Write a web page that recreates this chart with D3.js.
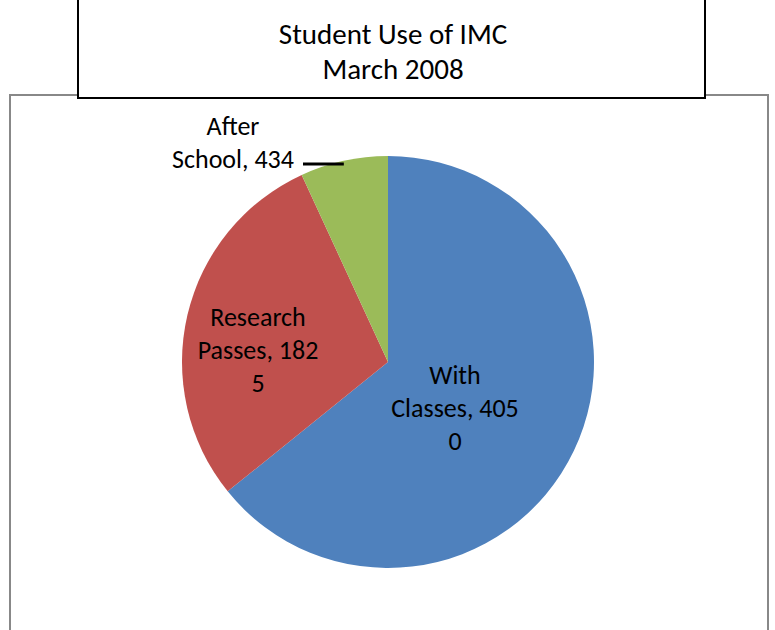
<!DOCTYPE html>
<html>
<head>
<meta charset="utf-8">
<script src="https://cdn.jsdelivr.net/npm/d3@7"></script>
<style>
  body { margin: 0; background: #fff; }
  svg { display: block; }
</style>
</head>
<body>
<div id="chart"></div>
<script>
// data
const categories = ['With Classes', 'Research Passes', 'After School'];
const values = [4050, 1825, 434];
const colors = ['#4F81BD', '#C0504D', '#9BBB59'];
// label lines as wrapped in the original
const labelLines = [
    ['With', 'Classes, 405', '0'],
    ['Research', 'Passes, 182', '5'],
    ['After', 'School, 434']
];

const width = 775, height = 630;
const font = 'Carlito, Lato, "Open Sans", sans-serif';

const svg = d3.select('#chart')
    .append('svg')
    .attr('width', width)
    .attr('height', height);

// chart area border
svg.append('rect')
    .attr('x', 10).attr('y', 95)
    .attr('width', 758).attr('height', 545)
    .attr('fill', '#fff')
    .attr('stroke', '#888')
    .attr('stroke-width', 2);

// title box
svg.append('rect')
    .attr('x', 78).attr('y', -1)
    .attr('width', 627).attr('height', 99)
    .attr('fill', '#fff')
    .attr('stroke', '#000')
    .attr('stroke-width', 2);

svg.append('text')
    .attr('x', 393).attr('y', 44)
    .attr('text-anchor', 'middle')
    .attr('font-family', font)
    .attr('font-size', '29px')
    .text('Student Use of IMC');

svg.append('text')
    .attr('x', 393).attr('y', 79)
    .attr('text-anchor', 'middle')
    .attr('font-family', font)
    .attr('font-size', '29px')
    .text('March 2008');

const cx = 388, cy = 362, r = 206;

const pie = d3.pie().sort(null).value(d => d)(values);
const arc = d3.arc().innerRadius(0).outerRadius(r);

const g = svg.append('g').attr('transform', `translate(${cx},${cy})`);

g.selectAll('path')
    .data(pie)
    .join('path')
    .attr('d', arc)
    .attr('fill', (d, i) => colors[i]);

// label anchor points (baseline of first line), relative to pie centre
const labelPos = [
    { x: 67, y: 22 },
    { x: -130, y: -36 },
    { x: -155, y: -227 }
];
const lineH = 33;

labelLines.forEach((lines, i) => {
    const t = svg.append('text')
        .attr('text-anchor', 'middle')
        .attr('font-family', font)
        .attr('font-size', '26px')
        .attr('fill', '#000');
    lines.forEach((line, j) => {
        t.append('tspan')
            .attr('x', cx + labelPos[i].x)
            .attr('y', cy + labelPos[i].y + j * lineH)
            .text(line);
    });
});

// leader line for small slice
const greenMid = (pie[2].startAngle + pie[2].endAngle) / 2;
const lx = cx + Math.sin(greenMid) * r;
svg.append('line')
    .attr('x1', 303).attr('x2', lx)
    .attr('y1', 164).attr('y2', 164)
    .attr('stroke', '#000')
    .attr('stroke-width', 3);
</script>
</body>
</html>
